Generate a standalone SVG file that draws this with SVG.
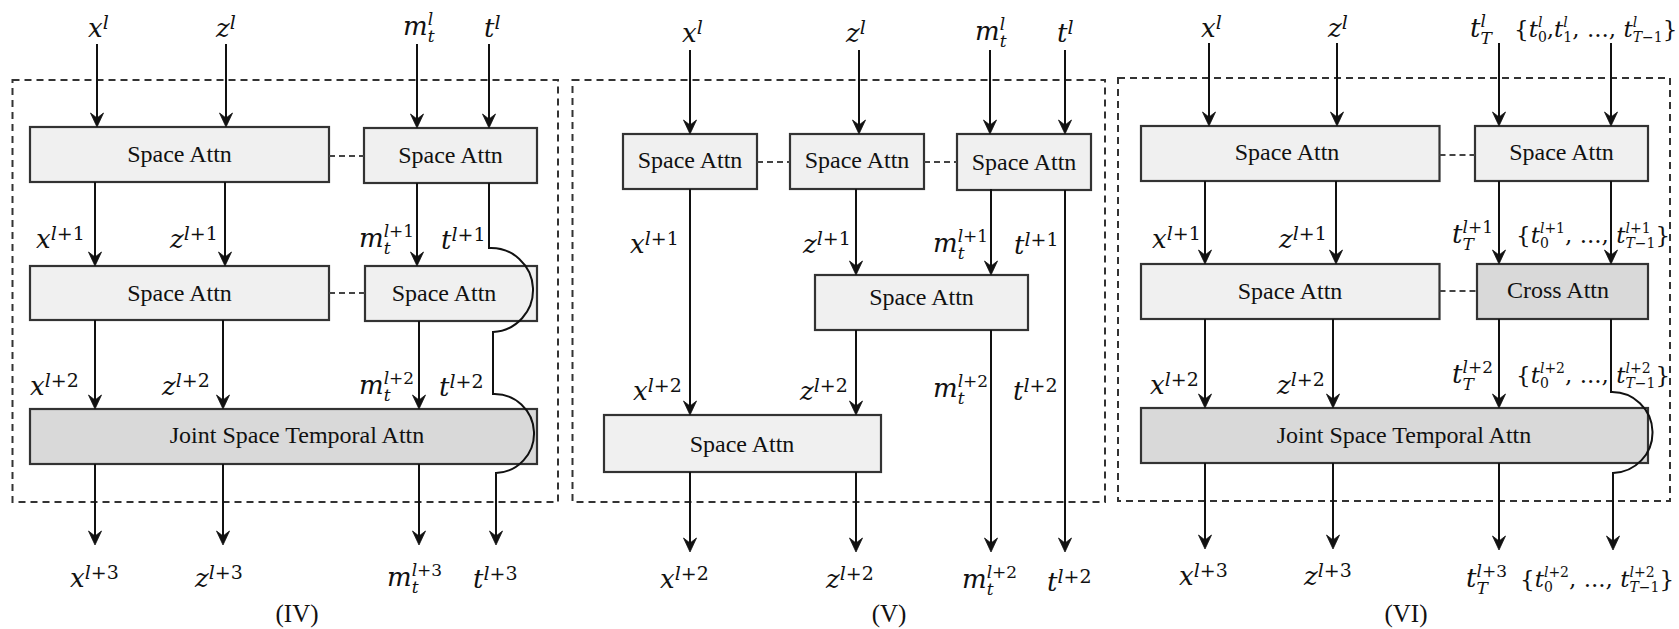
<svg xmlns="http://www.w3.org/2000/svg" width="1679" height="629" viewBox="0 0 1679 629">
<defs>
<marker id="ah" viewBox="-16 -8 17 16" refX="-4" refY="0" markerWidth="17" markerHeight="16" markerUnits="userSpaceOnUse" orient="auto"><path d="M0,0 L-14,-6.5 L-9,0 L-14,6.5 Z" fill="#111" stroke="#111" stroke-width="0.8" stroke-linejoin="miter"/></marker>
<style>
.frame{fill:none;stroke:#333;stroke-width:2;stroke-dasharray:7 5}
.box{stroke:#333;stroke-width:2.2}
.lt{fill:#f0f0f0}
.dk{fill:#d9d9d9}
.bt{font-family:"Liberation Serif",serif;font-size:24px;fill:#111;text-anchor:middle}
.link{fill:none;stroke:#444;stroke-width:2;stroke-dasharray:6 4}
.c{fill:none;stroke:#111;stroke-width:2}
.ar{marker-end:url(#ah)}
.v{font-family:"DejaVu Serif",serif;font-style:italic;font-size:26px;fill:#111}
.v .s{font-size:19px}
.v .q{font-size:17px}
.w{font-family:"DejaVu Serif",serif;font-style:italic;font-size:23px;fill:#111}
.w .s{font-size:14px}
.n{font-style:normal}
.cap{font-family:"Liberation Serif",serif;font-size:25px;fill:#111;text-anchor:middle}
</style>
</defs>
<rect width="1679" height="629" fill="#fff"/>
<g id="frames">
<rect class="frame" x="12.5" y="80" width="545.5" height="422"/>
<rect class="frame" x="572.5" y="80" width="532.5" height="422"/>
<rect class="frame" x="1118" y="78" width="552" height="423"/>
</g>
<g id="iv-sa1"><rect class="box lt" x="30" y="127" width="299" height="55"/><text class="bt" x="179.5" y="162">Space Attn</text></g>
<g id="iv-sa2"><rect class="box lt" x="364" y="128" width="173" height="55"/><text class="bt" x="450.5" y="163">Space Attn</text></g>
<g id="iv-sa3"><rect class="box lt" x="30" y="266" width="299" height="54"/><text class="bt" x="179.5" y="301">Space Attn</text></g>
<g id="iv-sa4"><rect class="box lt" x="365" y="266" width="172" height="55"/><text class="bt" x="444" y="301">Space Attn</text></g>
<g id="iv-joint"><rect class="box dk" x="30" y="409" width="507" height="55"/><text class="bt" x="297" y="443">Joint Space Temporal Attn</text></g>
<g id="v-sa1"><rect class="box lt" x="623" y="134" width="134" height="55"/><text class="bt" x="690" y="168">Space Attn</text></g>
<g id="v-sa2"><rect class="box lt" x="790" y="134" width="134" height="55"/><text class="bt" x="857" y="168">Space Attn</text></g>
<g id="v-sa3"><rect class="box lt" x="957" y="134" width="134" height="56"/><text class="bt" x="1024" y="170">Space Attn</text></g>
<g id="v-sa4"><rect class="box lt" x="815" y="275" width="213" height="55"/><text class="bt" x="921.5" y="305">Space Attn</text></g>
<g id="v-sa5"><rect class="box lt" x="604" y="415" width="277" height="57"/><text class="bt" x="742" y="452">Space Attn</text></g>
<g id="vi-sa1"><rect class="box lt" x="1141" y="126" width="298.5" height="55"/><text class="bt" x="1287" y="160">Space Attn</text></g>
<g id="vi-sa2"><rect class="box lt" x="1475" y="126" width="173" height="55"/><text class="bt" x="1561.5" y="160">Space Attn</text></g>
<g id="vi-sa3"><rect class="box lt" x="1141" y="264" width="298.5" height="55"/><text class="bt" x="1290" y="299">Space Attn</text></g>
<g id="vi-cross"><rect class="box dk" x="1477" y="264" width="171" height="55"/><text class="bt" x="1558" y="298">Cross Attn</text></g>
<g id="vi-joint"><rect class="box dk" x="1141" y="408" width="507" height="55"/><text class="bt" x="1404" y="443">Joint Space Temporal Attn</text></g>
<g id="connectors">
<path class="link" d="M329,156 H364 M329,293 H365 M757,162 H790 M924,162 H957 M1439.5,155 H1475 M1439.5,291 H1477"/>
<path class="c ar" d="M97,44 V123"/>
<path class="c ar" d="M226,44 V123"/>
<path class="c ar" d="M417,44 V124"/>
<path class="c ar" d="M489,44 V124"/>
<path class="c ar" d="M95,182 V262"/>
<path class="c ar" d="M225,182 V262"/>
<path class="c ar" d="M417,183 V262"/>
<path class="c ar" d="M489,183 V248 A42,42 0 0 1 493,332 V394 A39.5,39.5 0 0 1 496,473 V541"/>
<path class="c ar" d="M95,320 V405"/>
<path class="c ar" d="M223,320 V405"/>
<path class="c ar" d="M419,321 V405"/>
<path class="c ar" d="M95,464 V541"/>
<path class="c ar" d="M223,464 V541"/>
<path class="c ar" d="M419,464 V541"/>
<path class="c ar" d="M690,50 V130"/>
<path class="c ar" d="M859,50 V130"/>
<path class="c ar" d="M990,50 V130"/>
<path class="c ar" d="M1065,50 V130"/>
<path class="c ar" d="M690,189 V411"/>
<path class="c ar" d="M856,189 V271"/>
<path class="c ar" d="M991,189 V271"/>
<path class="c ar" d="M856,330 V411"/>
<path class="c ar" d="M991,330 V548"/>
<path class="c ar" d="M1065,190 V548"/>
<path class="c ar" d="M690,472 V548"/>
<path class="c ar" d="M856,472 V548"/>
<path class="c ar" d="M1209,43 V122"/>
<path class="c ar" d="M1337,43 V122"/>
<path class="c ar" d="M1499,43 V122"/>
<path class="c ar" d="M1611,43 V122"/>
<path class="c ar" d="M1205,181 V260"/>
<path class="c ar" d="M1336,181 V260"/>
<path class="c ar" d="M1499,181 V260"/>
<path class="c ar" d="M1611,181 V260"/>
<path class="c ar" d="M1205,319 V404"/>
<path class="c ar" d="M1333,319 V404"/>
<path class="c ar" d="M1499,319 V404"/>
<path class="c ar" d="M1611,319 V392 A40.5,40.5 0 0 1 1613,473 V546"/>
<path class="c ar" d="M1205,463 V545"/>
<path class="c ar" d="M1333,463 V545"/>
<path class="c ar" d="M1499,463 V546"/>
</g>
<g id="labels">
<text class="v" x="88" y="37">x<tspan class="s" dy="-8">l</tspan></text>
<text class="v" x="216" y="37">z<tspan class="s" dy="-8">l</tspan></text>
<text class="v" x="403" y="35">m<tspan class="q" dy="-10">l</tspan><tspan class="q" dx="-5.4" dy="17">t</tspan></text>
<text class="v" x="484" y="37">t<tspan class="s" dy="-8">l</tspan></text>
<text class="v" x="36" y="248">x<tspan class="s" dy="-8">l</tspan><tspan class="s n">+1</tspan></text>
<text class="v" x="170" y="248">z<tspan class="s" dy="-8">l</tspan><tspan class="s n">+1</tspan></text>
<text class="v" x="359" y="247">m<tspan class="q" dy="-10">l</tspan><tspan class="q n">+1</tspan><tspan class="q" dx="-30.5" dy="17">t</tspan></text>
<text class="v" x="441" y="249">t<tspan class="s" dy="-8">l</tspan><tspan class="s n">+1</tspan></text>
<text class="v" x="30" y="395">x<tspan class="s" dy="-8">l</tspan><tspan class="s n">+2</tspan></text>
<text class="v" x="162" y="395">z<tspan class="s" dy="-8">l</tspan><tspan class="s n">+2</tspan></text>
<text class="v" x="359" y="394">m<tspan class="q" dy="-10">l</tspan><tspan class="q n">+2</tspan><tspan class="q" dx="-30.5" dy="17">t</tspan></text>
<text class="v" x="439" y="396">t<tspan class="s" dy="-8">l</tspan><tspan class="s n">+2</tspan></text>
<text class="v" x="70" y="587">x<tspan class="s" dy="-8">l</tspan><tspan class="s n">+3</tspan></text>
<text class="v" x="195" y="587">z<tspan class="s" dy="-8">l</tspan><tspan class="s n">+3</tspan></text>
<text class="v" x="387" y="586">m<tspan class="q" dy="-10">l</tspan><tspan class="q n">+3</tspan><tspan class="q" dx="-30.5" dy="17">t</tspan></text>
<text class="v" x="473" y="588">t<tspan class="s" dy="-8">l</tspan><tspan class="s n">+3</tspan></text>
<text class="v" x="682" y="42">x<tspan class="s" dy="-8">l</tspan></text>
<text class="v" x="846" y="42">z<tspan class="s" dy="-8">l</tspan></text>
<text class="v" x="975" y="40">m<tspan class="q" dy="-10">l</tspan><tspan class="q" dx="-5.4" dy="17">t</tspan></text>
<text class="v" x="1057" y="42">t<tspan class="s" dy="-8">l</tspan></text>
<text class="v" x="630" y="253">x<tspan class="s" dy="-8">l</tspan><tspan class="s n">+1</tspan></text>
<text class="v" x="803" y="253">z<tspan class="s" dy="-8">l</tspan><tspan class="s n">+1</tspan></text>
<text class="v" x="933" y="252">m<tspan class="q" dy="-10">l</tspan><tspan class="q n">+1</tspan><tspan class="q" dx="-30.5" dy="17">t</tspan></text>
<text class="v" x="1014" y="254">t<tspan class="s" dy="-8">l</tspan><tspan class="s n">+1</tspan></text>
<text class="v" x="633" y="400">x<tspan class="s" dy="-8">l</tspan><tspan class="s n">+2</tspan></text>
<text class="v" x="800" y="400">z<tspan class="s" dy="-8">l</tspan><tspan class="s n">+2</tspan></text>
<text class="v" x="933" y="397">m<tspan class="q" dy="-10">l</tspan><tspan class="q n">+2</tspan><tspan class="q" dx="-30.5" dy="17">t</tspan></text>
<text class="v" x="1013" y="400">t<tspan class="s" dy="-8">l</tspan><tspan class="s n">+2</tspan></text>
<text class="v" x="660" y="588">x<tspan class="s" dy="-8">l</tspan><tspan class="s n">+2</tspan></text>
<text class="v" x="826" y="588">z<tspan class="s" dy="-8">l</tspan><tspan class="s n">+2</tspan></text>
<text class="v" x="962" y="588">m<tspan class="q" dy="-10">l</tspan><tspan class="q n">+2</tspan><tspan class="q" dx="-30.5" dy="17">t</tspan></text>
<text class="v" x="1047" y="591">t<tspan class="s" dy="-8">l</tspan><tspan class="s n">+2</tspan></text>
<text class="v" x="1201" y="37">x<tspan class="s" dy="-8">l</tspan></text>
<text class="v" x="1328" y="37">z<tspan class="s" dy="-8">l</tspan></text>
<text class="v" x="1470" y="37">t<tspan class="q" dy="-10">l</tspan><tspan class="q" dx="-5.4" dy="17">T</tspan></text>
<text class="w" x="1514" y="37"><tspan class="n">{</tspan>t<tspan class="s" dy="-10">l</tspan><tspan class="s n" dx="-4.5" dy="15">0</tspan><tspan class="n" dy="-5">,</tspan>t<tspan class="s" dy="-10">l</tspan><tspan class="s n" dx="-4.5" dy="15">1</tspan><tspan class="n" dy="-5">, ..., </tspan>t<tspan class="s" dy="-10">l</tspan><tspan class="s" dx="-4.5" dy="15">T</tspan><tspan class="s n">−1</tspan><tspan class="n" dy="-5">}</tspan></text>
<text class="v" x="1152" y="248">x<tspan class="s" dy="-8">l</tspan><tspan class="s n">+1</tspan></text>
<text class="v" x="1279" y="248">z<tspan class="s" dy="-8">l</tspan><tspan class="s n">+1</tspan></text>
<text class="v" x="1452" y="243">t<tspan class="q" dy="-10">l</tspan><tspan class="q n">+1</tspan><tspan class="q" dx="-30.5" dy="17">T</tspan></text>
<text class="w" x="1516" y="243"><tspan class="n">{</tspan>t<tspan class="s" dy="-10">l</tspan><tspan class="s n">+1</tspan><tspan class="s n" dx="-25.1" dy="15">0</tspan><tspan class="n" dx="16.2" dy="-5">, ..., </tspan>t<tspan class="s" dy="-10">l</tspan><tspan class="s n">+1</tspan><tspan class="s" dx="-25.1" dy="15">T</tspan><tspan class="s n">−1</tspan><tspan class="n" dy="-5">}</tspan></text>
<text class="v" x="1150" y="394">x<tspan class="s" dy="-8">l</tspan><tspan class="s n">+2</tspan></text>
<text class="v" x="1277" y="394">z<tspan class="s" dy="-8">l</tspan><tspan class="s n">+2</tspan></text>
<text class="v" x="1452" y="383">t<tspan class="q" dy="-10">l</tspan><tspan class="q n">+2</tspan><tspan class="q" dx="-30.5" dy="17">T</tspan></text>
<text class="w" x="1516" y="383"><tspan class="n">{</tspan>t<tspan class="s" dy="-10">l</tspan><tspan class="s n">+2</tspan><tspan class="s n" dx="-25.1" dy="15">0</tspan><tspan class="n" dx="16.2" dy="-5">, ..., </tspan>t<tspan class="s" dy="-10">l</tspan><tspan class="s n">+2</tspan><tspan class="s" dx="-25.1" dy="15">T</tspan><tspan class="s n">−1</tspan><tspan class="n" dy="-5">}</tspan></text>
<text class="v" x="1179" y="585">x<tspan class="s" dy="-8">l</tspan><tspan class="s n">+3</tspan></text>
<text class="v" x="1304" y="585">z<tspan class="s" dy="-8">l</tspan><tspan class="s n">+3</tspan></text>
<text class="v" x="1466" y="587">t<tspan class="q" dy="-10">l</tspan><tspan class="q n">+3</tspan><tspan class="q" dx="-30.5" dy="17">T</tspan></text>
<text class="w" x="1520" y="587"><tspan class="n">{</tspan>t<tspan class="s" dy="-10">l</tspan><tspan class="s n">+2</tspan><tspan class="s n" dx="-25.1" dy="15">0</tspan><tspan class="n" dx="16.2" dy="-5">, ..., </tspan>t<tspan class="s" dy="-10">l</tspan><tspan class="s n">+2</tspan><tspan class="s" dx="-25.1" dy="15">T</tspan><tspan class="s n">−1</tspan><tspan class="n" dy="-5">}</tspan></text>
<text class="cap" x="297" y="622">(IV)</text>
<text class="cap" x="889" y="622">(V)</text>
<text class="cap" x="1406" y="622">(VI)</text>
</g>
</svg>
